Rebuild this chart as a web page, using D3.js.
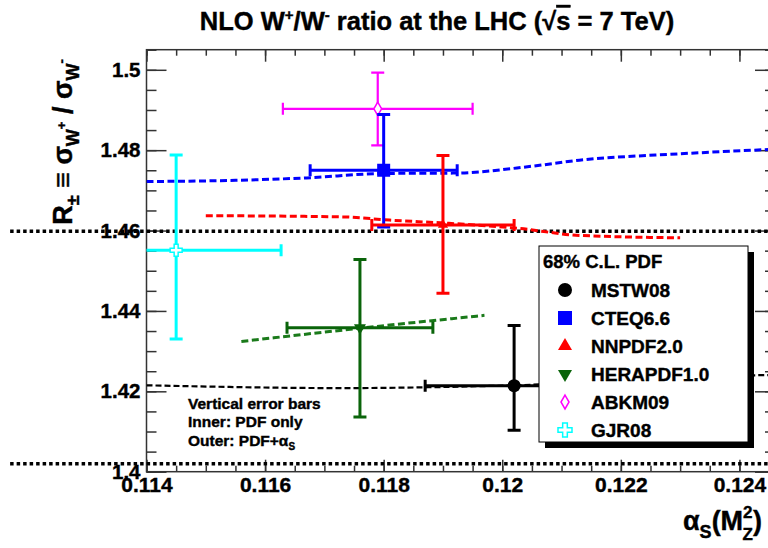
<!DOCTYPE html>
<html>
<head>
<meta charset="utf-8">
<script src="https://cdn.jsdelivr.net/npm/d3@7"></script>
<style>
body { margin: 0; background: #fff; }
svg { display: block; font-family: "Liberation Sans", Arial, sans-serif; font-weight: bold; }
svg text { stroke: #000; stroke-width: 0.4px; }
</style>
</head>
<body>
<svg id="chart" width="768" height="548"></svg>
<script>
// PDF sets, points at (alpha_s, R) with errors
var pdfNames = ["MSTW08", "CTEQ6.6", "NNPDF2.0", "HERAPDF1.0", "ABKM09", "GJR08"];
var alphaS = [0.1202, 0.118, 0.119, 0.1176, 0.1179, 0.1145];
var ratio = [1.4214, 1.475, 1.4614, 1.4358, 1.4903, 1.4551];
var alphaErr = [0.0015, 0.00124, 0.0012, 0.00123, 0.0016, 0.00177];
var ratioErrUp = [0.0150, 0.0139, 0.0173, 0.0170, 0.0090, 0.0237];
var ratioErrDown = [0.0111, 0.0141, 0.0170, 0.0222, 0.0091, 0.0221];

// alpha_s dependence of each set (dashed curves)
var mstwCurve = [[0.114, 1.4215], [0.1173, 1.4208], [0.1187, 1.4210], [0.1202, 1.4215], [0.1243, 1.4240], [0.1247, 1.4241]];
var cteqCurve = [[0.114, 1.4722], [0.1155, 1.4725], [0.1167, 1.4731], [0.118, 1.4742], [0.1192, 1.4743], [0.1205, 1.4760], [0.1213, 1.4775], [0.123, 1.4791], [0.1247, 1.4803]];
var nnpdfCurve = [[0.1150, 1.4637], [0.1173, 1.4634], [0.1181, 1.4626], [0.1191, 1.4618], [0.1203, 1.4605], [0.1213, 1.4588], [0.1230, 1.4582]];
var heraCurve = [[0.1156, 1.4324], [0.1176, 1.4357], [0.1197, 1.4389]];

// horizontal dotted lines
var bandValues = [1.4598, 1.4020];
var bandRange = [0.1117, 0.1247];

var xTicks = [0.114, 0.116, 0.118, 0.12, 0.122, 0.124];
var xTickLabels = ["0.114", "0.116", "0.118", "0.12", "0.122", "0.124"];
var yTicks = [1.4, 1.42, 1.44, 1.46, 1.48, 1.5];
var yTickLabels = ["1.4", "1.42", "1.44", "1.46", "1.48", "1.5"];

var colors = ["#000000", "#0000ff", "#ff0000", "#0a640a", "#ff00ff", "#00ffff"];
var symbols = [d3.symbolCircle, d3.symbolSquare, d3.symbolTriangle, d3.symbolTriangle, d3.symbolDiamond, d3.symbolCross];
var markerSize = [135, 169, 45, 62, 52, 80];
var legendSize = [154, 196, 85, 85, 56, 109];
var rotations = [0, 0, 0, 180, 0, 0];
var hollow = [false, false, false, false, true, true];
var barWidth = [3, 3, 3, 3, 2.2, 3];

var svg = d3.select("#chart");

var x = d3.scaleLinear().domain([0.114, 0.1246]).range([146.5, 775]);
var y = d3.scaleLinear().domain([1.4, 1.505]).range([471.7, 49.7]);

function range(a, b, step) {
    var out = [];
    for (var v = a; v <= b + step / 10; v += step) out.push(+v.toFixed(5));
    return out;
}

svg.append("defs").append("clipPath").attr("id", "plotclip")
    .append("rect")
    .attr("x", x.range()[0]).attr("y", y.range()[1])
    .attr("width", x.range()[1] - x.range()[0])
    .attr("height", y.range()[0] - y.range()[1]);

// title
var title = svg.append("text")
    .attr("x", 437).attr("y", 30)
    .attr("text-anchor", "middle")
    .style("font-size", "25.5px");
title.append("tspan").text("NLO W");
title.append("tspan").attr("dy", -10).style("font-size", "15px").text("+");
title.append("tspan").attr("dy", 10).text("/W");
title.append("tspan").attr("dy", -10).style("font-size", "15px").text("-");
title.append("tspan").attr("dy", 10).text(" ratio at the LHC (\u221A");
title.append("tspan").style("text-decoration", "overline").text("s");
title.append("tspan").text(" = 7 TeV)");

// axes
function styleAxis(g) {
    g.select(".domain").remove();
    g.selectAll("line").attr("stroke", "#333").attr("stroke-width", 1.5);
    g.selectAll("text").attr("fill", "#000").style("font-family", "Liberation Sans, Arial, sans-serif")
        .style("font-weight", "bold");
}

var yMinor = range(1.4, 1.505, 0.005);
var xMinor = range(0.114, 0.1246, 0.0005);

svg.append("g").attr("transform", "translate(" + x.range()[0] + ",0)")
    .call(d3.axisLeft(y).tickValues(yMinor).tickSize(-10).tickFormat(""))
    .call(styleAxis);
svg.append("g").attr("transform", "translate(" + x.range()[0] + ",0)")
    .call(d3.axisLeft(y).tickValues(yTicks).tickSize(-20).tickPadding(6)
        .tickFormat(function(d, i) { return yTickLabels[i]; }))
    .call(styleAxis)
    .selectAll("text").style("font-size", "20.5px");

svg.append("g").attr("transform", "translate(" + x.range()[1] + ",0)")
    .call(d3.axisRight(y).tickValues(yMinor).tickSize(-10).tickFormat(""))
    .call(styleAxis);
svg.append("g").attr("transform", "translate(" + x.range()[1] + ",0)")
    .call(d3.axisRight(y).tickValues(yTicks).tickSize(-20).tickFormat(""))
    .call(styleAxis);

svg.append("g").attr("transform", "translate(0," + y.range()[0] + ")")
    .call(d3.axisBottom(x).tickValues(xMinor).tickSize(-6).tickFormat(""))
    .call(styleAxis);
svg.append("g").attr("transform", "translate(0," + y.range()[0] + ")")
    .call(d3.axisBottom(x).tickValues(xTicks).tickSize(-12).tickPadding(5)
        .tickFormat(function(d, i) { return xTickLabels[i]; }))
    .call(styleAxis)
    .selectAll("text").style("font-size", "21px");

svg.append("g").attr("transform", "translate(0," + y.range()[1] + ")")
    .call(d3.axisTop(x).tickValues(xMinor).tickSize(-6).tickFormat(""))
    .call(styleAxis);
svg.append("g").attr("transform", "translate(0," + y.range()[1] + ")")
    .call(d3.axisTop(x).tickValues(xTicks).tickSize(-12).tickFormat(""))
    .call(styleAxis);

// frame
svg.append("rect")
    .attr("x", x.range()[0]).attr("y", y.range()[1])
    .attr("width", x.range()[1] - x.range()[0])
    .attr("height", y.range()[0] - y.range()[1])
    .attr("fill", "none").attr("stroke", "#333").attr("stroke-width", 1.5);

// axis titles
var ylab = svg.append("text")
    .attr("transform", "translate(72,142) rotate(-90)")
    .attr("text-anchor", "middle")
    .style("font-size", "27px");
ylab.append("tspan").text("R");
ylab.append("tspan").attr("dy", 7).style("font-size", "18px").text("\u00B1");
ylab.append("tspan").attr("dy", -7).text(" \u2261 \u03C3");
ylab.append("tspan").attr("dy", 7).style("font-size", "18px").text("W");
ylab.append("tspan").attr("dy", -13).style("font-size", "13px").text("+");
ylab.append("tspan").attr("dy", 6).text(" / \u03C3");
ylab.append("tspan").attr("dy", 7).style("font-size", "18px").text("W");
ylab.append("tspan").attr("dy", -13).style("font-size", "13px").text("-");

var xlab = svg.append("text")
    .attr("x", 683).attr("y", 530)
    .style("font-size", "27px");
xlab.append("tspan").text("\u03B1");
xlab.append("tspan").attr("dy", 8).style("font-size", "18px").text("S");
xlab.append("tspan").attr("dy", -8).text("(M");
xlab.append("tspan").attr("dy", -12).style("font-size", "17px").text("2");
xlab.append("tspan").attr("dx", -10).attr("dy", 22).style("font-size", "17px").text("Z");
xlab.append("tspan").attr("dy", -10).text(")");

// dotted lines across the plot
svg.append("g").selectAll("line").data(bandValues).join("line")
    .attr("x1", x(bandRange[0])).attr("x2", x(bandRange[1]))
    .attr("y1", function(d) { return y(d); }).attr("y2", function(d) { return y(d); })
    .attr("stroke", "#000").attr("stroke-width", 3.5)
    .attr("stroke-dasharray", "3.5,3");

var plot = svg.append("g").attr("clip-path", "url(#plotclip)");

var line = d3.line()
    .x(function(d) { return x(d[0]); })
    .y(function(d) { return y(d[1]); })
    .curve(d3.curveMonotoneX);

var curves = [
    {data: mstwCurve, color: colors[0], width: 2.2, dash: "6,3"},
    {data: cteqCurve, color: colors[1], width: 3, dash: "7,3.5"},
    {data: nnpdfCurve, color: colors[2], width: 3, dash: "7,3.5"},
    {data: heraCurve, color: "#1a7a1a", width: 3, dash: "7,3.5"}
];
plot.selectAll("path.curve").data(curves).join("path")
    .attr("class", "curve")
    .attr("d", function(d) { return line(d.data); })
    .attr("fill", "none")
    .attr("stroke", function(d) { return d.color; })
    .attr("stroke-width", function(d) { return d.width; })
    .attr("stroke-dasharray", function(d) { return d.dash; });

// error bars and markers
var drawOrder = [4, 5, 0, 1, 2, 3];
drawOrder.forEach(function(i) {
    var g = plot.append("g")
        .attr("stroke", colors[i])
        .attr("stroke-width", barWidth[i]);
    var cx = x(alphaS[i]), cy = y(ratio[i]);
    var xl = x(alphaS[i] - alphaErr[i]), xr = x(alphaS[i] + alphaErr[i]);
    var yt = y(ratio[i] + ratioErrUp[i]), yb = y(ratio[i] - ratioErrDown[i]);
    g.append("line").attr("x1", xl).attr("x2", xr).attr("y1", cy).attr("y2", cy);
    g.append("line").attr("x1", xl).attr("x2", xl).attr("y1", cy - 6).attr("y2", cy + 6);
    g.append("line").attr("x1", xr).attr("x2", xr).attr("y1", cy - 6).attr("y2", cy + 6);
    g.append("line").attr("x1", cx).attr("x2", cx).attr("y1", yt).attr("y2", yb);
    g.append("line").attr("x1", cx - 6.5).attr("x2", cx + 6.5).attr("y1", yt).attr("y2", yt);
    g.append("line").attr("x1", cx - 6.5).attr("x2", cx + 6.5).attr("y1", yb).attr("y2", yb);
    plot.append("path")
        .attr("d", d3.symbol().type(symbols[i]).size(markerSize[i]))
        .attr("transform", "translate(" + cx + "," + cy + ") rotate(" + rotations[i] + ")")
        .attr("fill", hollow[i] ? "#fff" : colors[i])
        .attr("stroke", colors[i])
        .attr("stroke-width", hollow[i] ? 1.5 : 0);
});

// note
var note = svg.append("g").style("font-size", "15.5px");
note.append("text").attr("x", 188).attr("y", 408.5).text("Vertical error bars");
note.append("text").attr("x", 188).attr("y", 427).text("Inner: PDF only");
var outer = note.append("text").attr("x", 188).attr("y", 445.5).text("Outer: PDF+\u03B1");
outer.append("tspan").attr("dy", 4).style("font-size", "10px").text("S");

// legend
var legX = 539, legY = 246, legW = 209, legH = 196;
var leg = svg.append("g");
leg.append("rect").attr("x", legX + 6).attr("y", legY + 6).attr("width", legW).attr("height", legH).attr("fill", "#000");
leg.append("rect").attr("x", legX).attr("y", legY).attr("width", legW).attr("height", legH)
    .attr("fill", "#fff").attr("stroke", "#000").attr("stroke-width", 1);
leg.append("text").attr("x", legX + 4).attr("y", legY + 22).style("font-size", "18.5px").text("68% C.L. PDF");
var entries = leg.selectAll("g.entry").data(pdfNames).join("g")
    .attr("class", "entry")
    .attr("transform", function(d, i) { return "translate(" + (legX + 26) + "," + (legY + 44 + i * 28) + ")"; });
entries.append("path")
    .attr("d", function(d, i) { return d3.symbol().type(symbols[i]).size(legendSize[i])(); })
    .attr("transform", function(d, i) { return "rotate(" + rotations[i] + ")"; })
    .attr("fill", function(d, i) { return hollow[i] ? "#fff" : colors[i]; })
    .attr("stroke", function(d, i) { return colors[i]; })
    .attr("stroke-width", function(d, i) { return hollow[i] ? 1.5 : 0; });
entries.append("text").attr("x", 26).attr("y", 6.5).style("font-size", "19px")
    .text(function(d) { return d; });
</script>
</body>
</html>
